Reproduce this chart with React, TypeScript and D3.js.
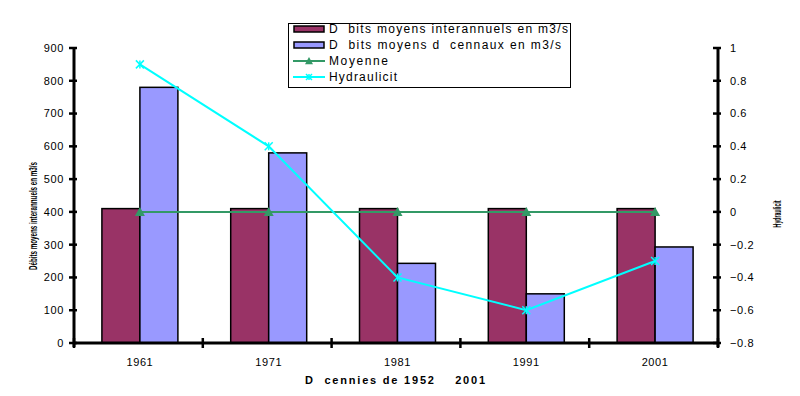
import React from 'react';
import * as d3 from "d3";

// decades and values
const decades = ["1961", "1971", "1981", "1991", "2001"];
const debitsInterannuels = [410, 410, 410, 410, 410];
const debitsDecennaux = [780, 580, 243, 150, 293];
const moyenne = [0, 0, 0, 0, 0];
const hydraulicite = [0.9, 0.4, -0.4, -0.6, -0.3];

const leftTicks = [0, 100, 200, 300, 400, 500, 600, 700, 800, 900];
const rightTicks = [-0.8, -0.6, -0.4, -0.2, 0, 0.2, 0.4, 0.6, 0.8, 1];

const legendLabels = [
  "D  bits moyens interannuels en m3/s",
  "D  bits moyens d  cennaux en m3/s",
  "Moyenne",
  "Hydraulicit",
];
const legendLengths = [239, 232, 59, 68];

const purple = "#993366";
const blue = "#9999ff";
const green = "#339966";
const cyan = "#00ffff";
const font = "'Liberation Sans', Arial, sans-serif";

export default function App() {
  const width = 800;
  const height = 396;
  const left = 74, right = 718, top = 48, bottom = 343;

  const x = d3.scaleBand().domain(decades).range([left, right]);
  const yL = d3.scaleLinear().domain([0, 900]).range([bottom, top]);
  const yR = d3.scaleLinear().domain([-0.8, 1]).range([bottom, top]);
  const barW = x.bandwidth() * 0.295;
  const cx = (d: string) => (x(d) as number) + x.bandwidth() / 2 + 1.5;

  const line = (vals: number[]) =>
    d3.line<number>().x((_, i) => cx(decades[i])).y(v => yR(v))(vals) as string;

  const cross = (px: number, py: number, s: number, key: string) => (
    <g key={key} stroke={cyan} strokeWidth={1.5}>
      <line x1={px - s} y1={py - s} x2={px + s} y2={py + s} />
      <line x1={px - s} y1={py + s} x2={px + s} y2={py - s} />
      <line x1={px} y1={py - s} x2={px} y2={py + s} />
    </g>
  );
  const tri = (px: number, py: number, s: number, key: string) => (
    <path key={key} d={`M${px},${py - s}L${px + s},${py + s * 0.8}L${px - s},${py + s * 0.8}Z`} fill={green} />
  );

  const bandEdges = decades.map(d => x(d) as number).concat([right]);

  return (
    <svg width={width} height={height} style={{ position: "absolute", left: 0, top: 0, background: "#fff" }} fontFamily={font}>
      {/* bars */}
      {decades.map((d, i) => (
        <g key={d} stroke="#000" strokeWidth={1.5}>
          <rect x={cx(d) - barW} y={yL(debitsInterannuels[i])} width={barW} height={bottom - yL(debitsInterannuels[i])} fill={purple} />
          <rect x={cx(d)} y={yL(debitsDecennaux[i])} width={barW} height={bottom - yL(debitsDecennaux[i])} fill={blue} />
        </g>
      ))}

      {/* lines */}
      <path d={line(moyenne)} fill="none" stroke={green} strokeWidth={2} />
      {moyenne.map((v, i) => tri(cx(decades[i]), yR(v), 5, "t" + i))}
      <path d={line(hydraulicite)} fill="none" stroke={cyan} strokeWidth={2} />
      {hydraulicite.map((v, i) => cross(cx(decades[i]), yR(v), 4, "c" + i))}

      {/* left axis */}
      <line x1={left} y1={top - 1} x2={left} y2={bottom + 4} stroke="#000" strokeWidth={3} />
      {leftTicks.map(t => (
        <g key={t}>
          <line x1={left - 5} x2={left + 3} y1={yL(t)} y2={yL(t)} stroke="#000" strokeWidth={2.5} />
          <text x={left - 10} y={yL(t)} dy="0.35em" textAnchor="end" fontSize={11} letterSpacing={0.6}>{t}</text>
        </g>
      ))}
      <text transform={`translate(37,216) rotate(-90)`} textAnchor="middle" fontSize={10} fontWeight="bold" textLength={108} lengthAdjust="spacingAndGlyphs">Débits moyens interannuels en m3/s</text>

      {/* right axis */}
      <line x1={right} y1={top - 1} x2={right} y2={bottom + 4} stroke="#000" strokeWidth={3} />
      {rightTicks.map(t => (
        <g key={t}>
          <line x1={right - 5} x2={right + 3} y1={yR(t)} y2={yR(t)} stroke="#000" strokeWidth={2.5} />
          <text x={right + 12} y={yR(t)} dy="0.35em" textAnchor="start" fontSize={11} letterSpacing={0.6}>{d3.format("")(+t.toFixed(1))}</text>
        </g>
      ))}
      <text transform={`translate(781,${yR(0) + 2}) rotate(-90)`} textAnchor="middle" fontSize={10} fontWeight="bold" textLength={27} lengthAdjust="spacingAndGlyphs">Hydraulicit</text>

      {/* bottom axis */}
      <line x1={left - 1} y1={bottom} x2={right + 1} y2={bottom} stroke="#000" strokeWidth={3} />
      {bandEdges.map((e, i) => (
        <line key={i} x1={e} x2={e} y1={bottom - 5} y2={bottom + 5} stroke="#000" strokeWidth={2.5} />
      ))}
      {decades.map(d => (
        <text key={d} x={cx(d)} y={bottom + 23} textAnchor="middle" fontSize={11} letterSpacing={0.6}>{d}</text>
      ))}
      <text x={305} y={384} fontSize={11} fontWeight="bold" xmlSpace="preserve" textLength={180} lengthAdjust="spacing">D  cennies de 1952    2001</text>

      {/* legend */}
      <rect x={288.5} y={23.5} width={282} height={64} fill="#fff" stroke="#000" strokeWidth={1} />
      {legendLabels.map((l, i) => {
        const ly = 29 + i * 16;
        return (
          <g key={l}>
            {i < 2 ? (
              <rect x={294} y={ly - 3} width={30} height={6} fill={i === 0 ? purple : blue} stroke="#000" strokeWidth={1.5} />
            ) : (
              <>
                <line x1={293} x2={325} y1={ly} y2={ly} stroke={i === 2 ? green : cyan} strokeWidth={2} />
                {i === 2 ? tri(309, ly, 4, "lt") : cross(309, ly, 3, "lc")}
              </>
            )}
            <text x={329} y={ly} dy="0.35em" fontSize={12} xmlSpace="preserve" textLength={legendLengths[i]} lengthAdjust="spacing">{l}</text>
          </g>
        );
      })}
    </svg>
  );
}
